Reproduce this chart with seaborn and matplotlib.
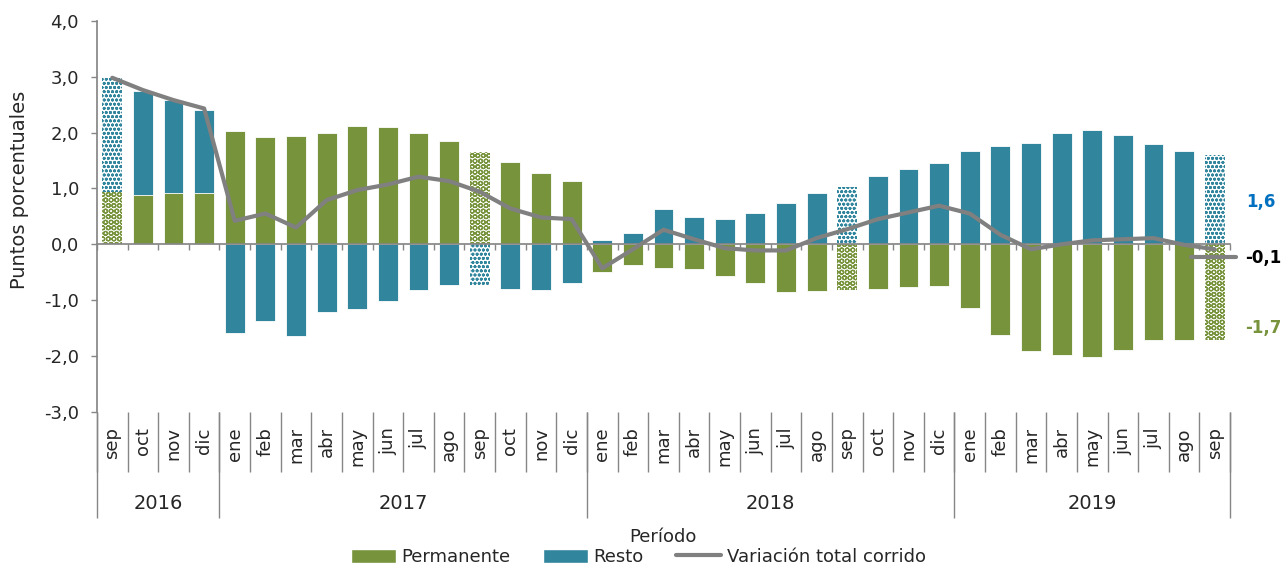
import numpy as np
import pandas as pd
import matplotlib
matplotlib.use("Agg")
import matplotlib.pyplot as plt
import seaborn as sns
from matplotlib.patches import Patch
from matplotlib.lines import Line2D
from matplotlib.ticker import FixedLocator, FuncFormatter

## datos
meses = (['sep', 'oct', 'nov', 'dic']
         + ['ene', 'feb', 'mar', 'abr', 'may', 'jun', 'jul', 'ago', 'sep', 'oct', 'nov', 'dic'] * 2
         + ['ene', 'feb', 'mar', 'abr', 'may', 'jun', 'jul', 'ago', 'sep'])
anios = ['2016', '2017', '2018', '2019']
meses_por_anio = [4, 12, 12, 9]

permanente = [0.94, 0.88, 0.91, 0.91,
              2.02, 1.92, 1.94, 2.00, 2.12, 2.10, 2.00, 1.85, 1.66, 1.47, 1.28, 1.13,
              -0.49, -0.37, -0.43, -0.45, -0.57, -0.70, -0.86, -0.83, -0.82, -0.80, -0.77, -0.75,
              -1.14, -1.62, -1.91, -1.99, -2.01, -1.89, -1.72, -1.71, -1.72]
resto = [2.03, 1.86, 1.67, 1.50,
         -1.59, -1.37, -1.64, -1.22, -1.16, -1.02, -0.81, -0.73, -0.73, -0.80, -0.82, -0.69,
         0.08, 0.21, 0.64, 0.49, 0.46, 0.56, 0.73, 0.91, 1.03, 1.22, 1.34, 1.45,
         1.67, 1.75, 1.82, 1.99, 2.04, 1.96, 1.79, 1.67, 1.59]
variacion_total = [2.98, 2.76, 2.58, 2.43,
                   0.42, 0.55, 0.30, 0.79, 0.97, 1.07, 1.21, 1.13, 0.94, 0.64, 0.48, 0.45,
                   -0.43, -0.09, 0.26, 0.09, -0.07, -0.11, -0.11, 0.11, 0.27, 0.45, 0.57, 0.69,
                   0.55, 0.17, -0.09, 0.00, 0.07, 0.09, 0.11, -0.01, -0.09]
## meses resaltados con trama (septiembre de cada anio)
resaltados = [0, 12, 24, 36]

verde = '#77933C'
azul = '#31859C'
gris = '#868686'
gris_linea = '#808080'

n = len(meses)
df = pd.DataFrame({'pos': np.arange(n), 'permanente': permanente,
                   'resto': resto, 'total': variacion_total})
## resto se apila sobre permanente cuando tienen el mismo signo
mismo_signo = np.sign(df['permanente']) == np.sign(df['resto'])
df['resto_apilado'] = np.where(mismo_signo, df['permanente'] + df['resto'], df['resto'])

sns.set_theme(style='white')
plt.rcParams['font.family'] = ['DejaVu Sans']
plt.rcParams['hatch.linewidth'] = 0.9

fig = plt.figure(figsize=(12.84, 5.69), dpi=100)
ax = fig.add_axes([0.0755, 0.2761, 0.8825, 0.6874])

sns.barplot(data=df, x='pos', y='resto_apilado', color=azul, saturation=1, width=0.65,
            errorbar=None, linewidth=0.6, edgecolor='white', ax=ax)
sns.barplot(data=df, x='pos', y='permanente', color=verde, saturation=1, width=0.65,
            errorbar=None, linewidth=0.6, edgecolor='white', ax=ax)

barras = ax.patches
for i in resaltados:
    for p, col, trama in [(barras[i], azul, 'oooo'), (barras[n + i], verde, 'OOO')]:
        p.set_facecolor('white')
        p.set_edgecolor(col)
        p.set_hatch(trama)
        p.set_linewidth(0)

sns.lineplot(data=df, x='pos', y='total', color=gris_linea, linewidth=3,
             legend=False, ax=ax, zorder=4)

## eje y
ax.set_xlim(-0.5, n - 0.5)
ax.set_ylim(-3, 4)
ax.set_yticks(range(-3, 5))
ax.yaxis.set_major_formatter(FuncFormatter(lambda v, _: f'{v:.1f}'.replace('.', ',')))
ax.tick_params(axis='y', length=4, width=1, color=gris, labelsize=13, pad=9, left=True)
ax.set_ylabel('')
ax.set_xlabel('')
for s in ['top', 'right']:
    ax.spines[s].set_visible(False)
ax.spines['left'].set_color(gris)
ax.spines['bottom'].set_color(gris)
ax.spines['bottom'].set_position(('data', 0))

limites = np.arange(n + 1) - 0.5
ax.set_xticks([])
ax.xaxis.set_minor_locator(FixedLocator(limites))
ax.tick_params(axis='x', which='minor', bottom=True, length=4, width=1, color=gris)

## etiquetas de meses
sec_mes = ax.secondary_xaxis('bottom')
sec_mes.set_xticks(np.arange(n))
sec_mes.set_xticklabels(meses, rotation=90)
sec_mes.xaxis.set_minor_locator(FixedLocator(limites))
sec_mes.tick_params(which='major', length=0, pad=11, labelsize=13)
sec_mes.tick_params(which='minor', length=43, width=1, color=gris)
for s in sec_mes.spines.values():
    s.set_visible(False)

## etiquetas de anios
bordes = np.concatenate([[0], np.cumsum(meses_por_anio)]) - 0.5
centros_anio = (bordes[:-1] + bordes[1:]) / 2
sec_anio = ax.secondary_xaxis('bottom')
sec_anio.set_xticks(centros_anio)
sec_anio.set_xticklabels(anios)
sec_anio.xaxis.set_minor_locator(FixedLocator(bordes))
sec_anio.tick_params(which='major', length=0, pad=59, labelsize=14)
sec_anio.tick_params(which='minor', length=76, width=1, color=gris)
for s in sec_anio.spines.values():
    s.set_visible(False)

## etiquetas del ultimo dato
fmt = lambda v: f'{v:.1f}'.replace('.', ',')
x_lab = n - 0.02
ax.text(x_lab + 0.05, 0.76, fmt(resto[-1]), color='#0070C0', fontsize=12, fontweight='bold',
        ha='left', va='center', clip_on=False)
ax.text(x_lab, -0.25, fmt(variacion_total[-1]), color='black', fontsize=12, fontweight='bold',
        ha='left', va='center', clip_on=False)
ax.text(x_lab, -1.5, fmt(permanente[-1]), color=verde, fontsize=12, fontweight='bold',
        ha='left', va='center', clip_on=False)
ax.plot([n - 1.78, n - 0.3], [-0.23, -0.23], color=gris_linea, linewidth=3,
        clip_on=False, zorder=4)

fig.text(20 / 1284, 1 - 190 / 569, 'Puntos porcentuales', rotation=90, fontsize=14,
         ha='center', va='center')
fig.text(663 / 1284, 1 - 537 / 569, 'Período', fontsize=13, ha='center', va='center')

handles = [Patch(facecolor=verde, label='Permanente'),
           Patch(facecolor=azul, label='Resto'),
           Line2D([0], [0], color=gris_linea, linewidth=3, label='Variación total corrido')]
fig.legend(handles=handles, loc='center', bbox_to_anchor=(0.497, 1 - 557 / 569), ncol=3,
           frameon=False, fontsize=13, handlelength=2.5, handleheight=0.8,
           handletextpad=0.3, columnspacing=1.8, borderpad=0)

fig.savefig('out.png', dpi=100)
